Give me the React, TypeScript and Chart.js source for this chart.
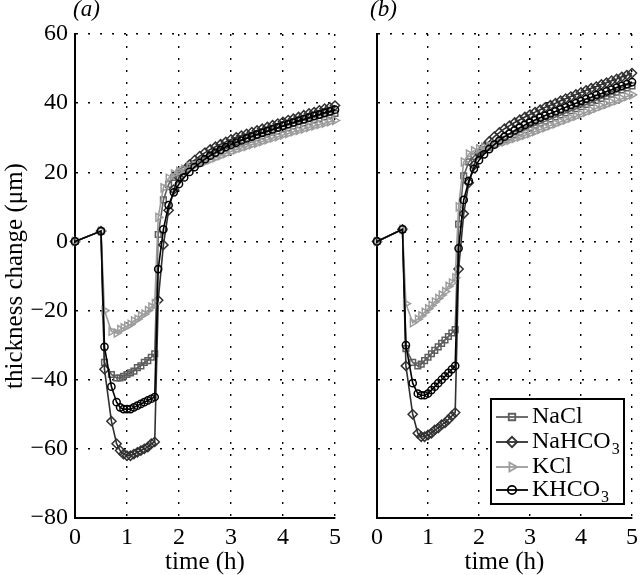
import React, { useEffect, useRef } from 'react';
import { Chart, registerables } from 'chart.js';
import { drawPoint } from 'chart.js/helpers';

Chart.register(...registerables);

const SERIF = '"Liberation Serif", "Times New Roman", Times, serif';

// time (h)
const time = [
  0, 0.5, 0.567, 0.7, 0.8, 0.867, 0.933, 1.0, 1.067, 1.133, 1.2, 1.267, 1.333, 1.4, 1.467, 1.533,
  1.6, 1.7, 1.8, 1.9, 2.0, 2.1, 2.2, 2.3, 2.4, 2.5, 2.6, 2.7, 2.8, 2.9, 3.0, 3.1, 3.2, 3.3, 3.4, 3.5,
  3.6, 3.7, 3.8, 3.9, 4.0, 4.1, 4.2, 4.3, 4.4, 4.5, 4.6, 4.7, 4.8, 4.9, 5.0,
];

// panel (a)
const naclA = [
  0, 3, -35, -38.5, -39.5, -39.5, -39, -38.5, -38, -37.5, -36.5, -36, -35, -34.5, -33.5, -32.5,
  2, 12, 16.5, 18.5, 19.8, 20.8, 21.7, 22.5, 23.3, 24.0, 24.8, 25.5, 26.2, 26.8, 27.5, 28.0, 28.5, 29.0, 29.5, 30.0,
  30.5, 31.0, 31.5, 32.0, 32.5, 32.9, 33.4, 33.8, 34.3, 34.7, 35.2, 35.6, 36.1, 36.5, 37.0,
];
const nahco3A = [
  0, 3, -37, -52, -58.5, -60.5, -61.5, -62, -62, -61.5, -61, -60.5, -60, -59.5, -58.5, -58,
  -17, -1, 9, 15, 18.5, 20.6, 22.2, 23.5, 24.7, 25.7, 26.6, 27.4, 28.1, 28.8, 29.5, 30.1, 30.6, 31.1, 31.6, 32.1,
  32.6, 33.1, 33.6, 34.1, 34.6, 35.1, 35.5, 36.0, 36.5, 37.0, 37.4, 37.9, 38.4, 38.8, 39.3,
];
const kclA = [
  0, 3, -20, -26, -26.5, -25.5, -25, -24.5, -24, -23, -22.5, -21.5, -21, -20, -19, -18,
  7, 15.5, 18.3, 19.5, 20.3, 20.9, 21.5, 22.0, 22.5, 23.0, 23.6, 24.2, 24.8, 25.4, 26.0, 26.5, 27.0, 27.5, 28.0, 28.4,
  28.9, 29.4, 29.9, 30.3, 30.8, 31.2, 31.7, 32.1, 32.5, 33.0, 33.4, 33.8, 34.2, 34.6, 35.0,
];
const khco3A = [
  0, 3, -30.5, -42, -46.5, -48, -48.5, -48.5, -48.5, -48, -47.5, -47, -46.5, -46, -45.5, -45,
  -8, 3.5, 10.5, 14.2, 16.6, 18.5, 20.1, 21.5, 22.7, 23.8, 24.8, 25.7, 26.5, 27.3, 28.0, 28.6, 29.2, 29.8, 30.3, 30.9,
  31.4, 31.9, 32.4, 32.9, 33.4, 33.9, 34.4, 34.9, 35.3, 35.8, 36.3, 36.7, 37.2, 37.6, 38.1,
];

// panel (b)
const naclB = [
  0, 3.5, -31, -35, -36, -35.5, -34.5, -33.5, -32.5, -31.5, -30.5, -29.5, -28.5, -27.5, -26.5, -25.5,
  5, 19, 23, 24.6, 25.6, 26.5, 27.3, 28.1, 28.8, 29.5, 30.2, 30.9, 31.6, 32.3, 33.0, 33.6, 34.2, 34.8, 35.4, 36.0,
  36.6, 37.2, 37.8, 38.4, 39.0, 39.6, 40.2, 40.8, 41.4, 42.0, 42.6, 43.2, 43.8, 44.4, 45.0,
];
const nahco3B = [
  0, 3.5, -36, -50, -55.5, -56.5, -56.5, -56, -55.5, -54.5, -54, -53, -52.5, -51.5, -50.5, -49.5,
  -8, 8, 17, 22, 25.5, 27.3, 28.9, 30.3, 31.5, 32.6, 33.5, 34.4, 35.2, 36.0, 36.7, 37.4, 38.1, 38.8, 39.4, 40.0,
  40.7, 41.3, 41.9, 42.5, 43.1, 43.7, 44.3, 44.8, 45.4, 45.9, 46.5, 47.0, 47.6, 48.1, 48.7,
];
const kclB = [
  0, 3.5, -18, -23.5, -22.5, -21.5, -20.5, -19.5, -18.5, -17.5, -16.5, -15.5, -14.5, -13, -12, -10.5,
  10, 23, 25.3, 26.2, 26.8, 27.2, 27.6, 28.0, 28.4, 28.8, 29.3, 29.8, 30.2, 30.7, 31.2, 31.8, 32.4, 32.9, 33.5, 34.0,
  34.6, 35.1, 35.7, 36.2, 36.8, 37.4, 37.9, 38.5, 39.1, 39.6, 40.2, 40.7, 41.3, 41.9, 42.4,
];
const khco3B = [
  0, 3.5, -30, -41, -44, -44.5, -44.5, -44, -43, -42, -41, -40, -39, -38, -37, -36,
  -2, 12, 17.5, 21, 23.5, 25.2, 26.7, 28.0, 29.2, 30.3, 31.2, 32.1, 32.9, 33.7, 34.4, 35.1, 35.8, 36.4, 37.0, 37.6,
  38.2, 38.8, 39.4, 40.0, 40.6, 41.2, 41.7, 42.3, 42.8, 43.4, 43.9, 44.5, 45.0, 45.5, 46.1,
];

const seriesNames = ['NaCl', 'NaHCO3', 'KCl', 'KHCO3'];
const panelLabels = ['(a)', '(b)'];
const xTicks = { min: 0, max: 5, step: 1 };
const yTicks = { min: -80, max: 60, step: 20 };
const xTitle = 'time (h)';
const yTitle = 'thickness change (\u03bcm)';

const STYLES = [
  { color: '#5e5e5e', pointStyle: 'rect', radius: 4, rotation: 0 },
  { color: '#303030', pointStyle: 'rectRot', radius: 4.6, rotation: 0 },
  { color: '#9c9c9c', pointStyle: 'triangle', radius: 4.6, rotation: 90 },
  { color: '#000000', pointStyle: 'circle', radius: 3.6, rotation: 0 },
];

function makeDatasets(values: number[][]) {
  return values.map((vals, i) => ({
    label: seriesNames[i],
    data: time.map((t, j) => ({ x: t, y: vals[j] })),
    borderColor: STYLES[i].color,
    borderWidth: 1.6,
    pointStyle: STYLES[i].pointStyle,
    pointRadius: STYLES[i].radius,
    pointRotation: STYLES[i].rotation,
    pointBorderColor: STYLES[i].color,
    pointBackgroundColor: 'rgba(0,0,0,0)',
    pointBorderWidth: 1.5,
    tension: 0,
    clip: false,
    order: 3 - i,
  }));
}

function labelPlugin(text: string, x: number) {
  return {
    id: 'panelLabel',
    afterDraw(chart: any) {
      const ctx = chart.ctx;
      ctx.save();
      ctx.font = `italic 23px ${SERIF}`;
      ctx.fillStyle = '#000';
      ctx.textAlign = 'left';
      ctx.textBaseline = 'middle';
      ctx.fillText(text, x, 10);
      ctx.restore();
    },
  };
}

const legendPlugin = {
  id: 'innerLegend',
  afterDraw(chart: any) {
    const ctx = chart.ctx;
    const left = 151, top = 399, w = 133, h = 105;
    ctx.save();
    ctx.fillStyle = '#fff';
    ctx.fillRect(left, top, w, h);
    ctx.lineWidth = 2;
    ctx.strokeStyle = '#000';
    ctx.strokeRect(left, top, w, h);
    const rows = [417, 442, 467, 490];
    seriesNames.forEach((name, i) => {
      const y = rows[i];
      const st = STYLES[i];
      ctx.strokeStyle = st.color;
      ctx.lineWidth = 1.8;
      ctx.beginPath();
      ctx.moveTo(156, y);
      ctx.lineTo(188, y);
      ctx.stroke();
      ctx.fillStyle = 'rgba(0,0,0,0)';
      ctx.lineWidth = 1.8;
      drawPoint(ctx, { pointStyle: st.pointStyle, rotation: st.rotation, radius: st.radius + 0.6, borderWidth: 1.8 } as any, 172, y);
      const m = name.match(/^(.*?)(\d*)$/);
      const main = m ? m[1] : name;
      const sub = m ? m[2] : '';
      ctx.fillStyle = '#000';
      ctx.textAlign = 'left';
      ctx.textBaseline = 'middle';
      ctx.font = `24px ${SERIF}`;
      ctx.fillText(main, 192, y);
      if (sub) {
        const wMain = ctx.measureText(main).width;
        ctx.font = `16px ${SERIF}`;
        ctx.fillText(sub, 192 + wMain + 1, y + 8);
      }
    });
    ctx.restore();
  },
};

function makeOptions(showY: boolean, yWidth: number, padRight: number) {
  const minus = (v: any) => String(v).replace('-', '\u2212');
  return {
    animation: false,
    responsive: false,
    maintainAspectRatio: false,
    events: [],
    layout: { padding: { top: 34, right: padRight, bottom: 0, left: 0 } },
    plugins: { legend: { display: false }, tooltip: { enabled: false }, title: { display: false } },
    scales: {
      x: {
        type: 'linear',
        min: xTicks.min,
        max: xTicks.max,
        ticks: {
          stepSize: xTicks.step,
          color: '#000',
          font: { family: SERIF, size: 24 },
          padding: 5,
          maxRotation: 0,
          callback: minus,
        },
        grid: { color: '#000', lineWidth: 1.4, drawTicks: false },
        border: { display: true, color: '#000', width: 2, dash: [2, 10] },
        title: {
          display: true,
          text: xTitle,
          color: '#000',
          font: { family: SERIF, size: 25, weight: 'normal' },
          padding: { top: 0, bottom: -2 },
        },
        afterFit: (s: any) => { s.height = 57; },
      },
      y: {
        type: 'linear',
        min: yTicks.min,
        max: yTicks.max,
        ticks: {
          display: showY,
          stepSize: yTicks.step,
          color: '#000',
          font: { family: SERIF, size: 24 },
          padding: 7,
          callback: minus,
        },
        grid: { color: '#000', lineWidth: 1.4, drawTicks: false },
        border: { display: true, color: '#000', width: 2, dash: [2, 10] },
        title: {
          display: showY,
          text: yTitle,
          color: '#000',
          font: { family: SERIF, size: 25, weight: 'normal' },
          padding: { top: 0, bottom: 0 },
        },
        afterFit: (s: any) => { s.width = yWidth; },
      },
    },
  } as any;
}

function Panel(props: { values: number[][]; label: string; labelX: number; showY: boolean; yWidth: number; padRight: number; width: number; left: number; legend: boolean }) {
  const ref = useRef<HTMLCanvasElement>(null);
  useEffect(() => {
    if (!ref.current) return;
    const plugins: any[] = [labelPlugin(props.label, props.labelX)];
    if (props.legend) plugins.push(legendPlugin);
    const chart = new Chart(ref.current, {
      type: 'line',
      data: { datasets: makeDatasets(props.values) as any },
      options: makeOptions(props.showY, props.yWidth, props.padRight),
      plugins,
    });
    let alive = true;
    const fonts = (document as any).fonts;
    if (fonts && fonts.load) {
      Promise.all([
        fonts.load('24px "Liberation Serif"'),
        fonts.load('italic 23px "Liberation Serif"'),
      ]).then(() => { if (alive) chart.update(); }).catch(() => {});
    }
    return () => { alive = false; chart.destroy(); };
  }, []);
  return (
    <canvas
      ref={ref}
      width={props.width}
      height={575}
      style={{ position: 'absolute', left: props.left, top: 0, width: props.width, height: 575 }}
    />
  );
}

export default function App() {
  return (
    <div style={{ position: 'absolute', left: 0, top: 0, width: 643, height: 575, background: '#fff' }}>
      <span style={{ position: 'absolute', left: -9999, fontFamily: '"Liberation Serif"' }}>a<i>b</i></span>
      <Panel values={[naclA, nahco3A, kclA, khco3A]} label={panelLabels[0]} labelX={73} showY={true} yWidth={75} padRight={15} width={350} left={0} legend={false} />
      <Panel values={[naclB, nahco3B, kclB, khco3B]} label={panelLabels[1]} labelX={30} showY={false} yWidth={37} padRight={7} width={303} left={340} legend={true} />
    </div>
  );
}
